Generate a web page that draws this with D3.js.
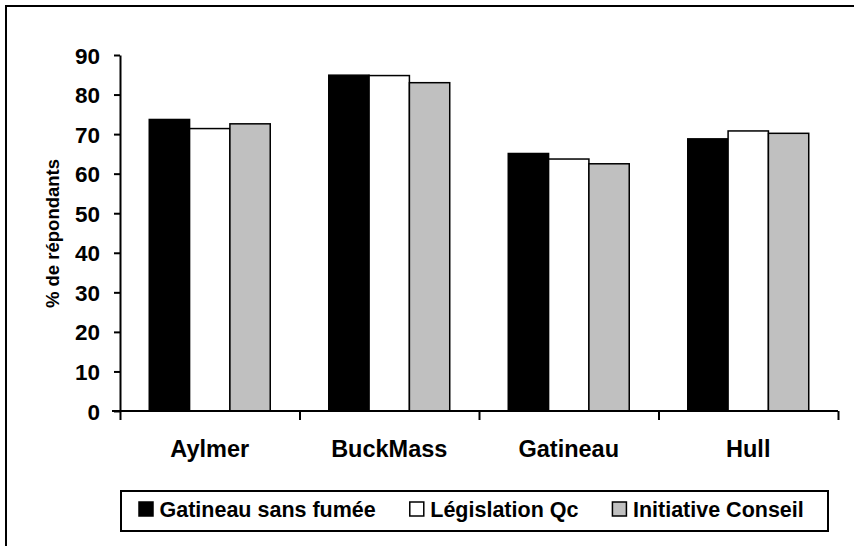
<!DOCTYPE html>
<html>
<head>
<meta charset="utf-8">
<script src="https://cdn.jsdelivr.net/npm/d3@7"></script>
<style>
  body { margin: 0; background: #fff; }
  svg { display: block; }
  text { font-family: "Liberation Sans", Arial, sans-serif; font-weight: bold; fill: #000; }
</style>
</head>
<body>
<div id="chart"></div>
<script>
const categories = ['Aylmer', 'BuckMass', 'Gatineau', 'Hull'];
const seriesNames = ['Gatineau sans fumée', 'Législation Qc', 'Initiative Conseil'];
const gatineauSansFumee = [73.7, 84.9, 65.1, 68.8];
const legislationQc = [71.4, 84.8, 63.7, 70.8];
const initiativeConseil = [72.6, 83.0, 62.5, 70.2];
const yTicks = [0, 10, 20, 30, 40, 50, 60, 70, 80, 90];

const seriesValues = [gatineauSansFumee, legislationQc, initiativeConseil];
const colors = d3.scaleOrdinal().domain(seriesNames).range(['#000000', '#ffffff', '#c0c0c0']);

const W = 854, H = 546;
const m = {t:55, r:16, b:135, l:120};

const svg = d3.select('#chart')
  .append('svg')
  .attr('width', W)
  .attr('height', H);

// outer frame (right/bottom edges fall outside the picture)
svg.append('rect')
  .attr('x', 6).attr('y', 6)
  .attr('width', W + 20).attr('height', H + 20)
  .attr('fill', 'none')
  .attr('stroke', '#000')
  .attr('stroke-width', 2);

const y = d3.scaleLinear()
  .domain([0, 90])
  .range([H - m.b, m.t]);

const x0 = d3.scaleBand()
  .domain(categories)
  .range([m.l, W - m.r])
  .paddingInner(0.326)
  .paddingOuter(0.163);

const x1 = d3.scaleBand()
  .domain(seriesNames)
  .range([0, x0.bandwidth()]);

// bars
const groups = svg.selectAll('.group')
  .data(categories)
  .enter()
  .append('g')
  .attr('class', 'group')
  .attr('transform', d => `translate(${x0(d)},0)`);

groups.selectAll('rect')
  .data((c, i) => seriesNames.map((s, j) => ({s: s, v: seriesValues[j][i]})))
  .enter()
  .append('rect')
  .attr('x', d => x1(d.s))
  .attr('y', d => y(d.v))
  .attr('width', x1.bandwidth())
  .attr('height', d => y(0) - y(d.v))
  .attr('fill', d => colors(d.s))
  .attr('stroke', '#000')
  .attr('stroke-width', 1.5);

// y axis
const yAxis = svg.append('g')
  .attr('transform', `translate(${m.l},0)`)
  .call(d3.axisLeft(y).tickValues(yTicks).tickSize(6).tickSizeOuter(0).tickPadding(14));

yAxis.selectAll('path, line').attr('stroke', '#000').attr('stroke-width', 2);
yAxis.selectAll('text')
  .style('font-size', '22.5px')
  .attr('dy', '0.36em');

// x axis: ticks on category boundaries
const xb = d3.scaleLinear().domain([0, categories.length]).range([m.l, W - m.r]);
const xAxis = svg.append('g')
  .attr('transform', `translate(0,${y(0)})`)
  .call(d3.axisBottom(xb).ticks(categories.length).tickSize(9).tickSizeOuter(0).tickFormat(''));
xAxis.selectAll('path, line').attr('stroke', '#000').attr('stroke-width', 2);
xAxis.select('.domain').attr('d', `M${m.l - 8},0H${W - m.r}`);

svg.selectAll('.cat')
  .data(categories)
  .enter()
  .append('text')
  .attr('class', 'cat')
  .attr('x', d => x0(d) + x0.bandwidth() / 2)
  .attr('y', y(0) + 46)
  .attr('text-anchor', 'middle')
  .style('font-size', '23.5px')
  .text(d => d);

// y label
svg.append('text')
  .attr('transform', `translate(59, ${y(45) + 0.5}) rotate(-90)`)
  .attr('text-anchor', 'middle')
  .style('font-size', '18.5px')
  .text('% de répondants');

// legend
const legend = svg.append('g');
legend.append('rect')
  .attr('x', 121).attr('y', 491)
  .attr('width', 707).attr('height', 40)
  .attr('fill', '#fff')
  .attr('stroke', '#000')
  .attr('stroke-width', 2);

let lx = 139;
seriesNames.forEach(function(s){
  const item = legend.append('g').attr('transform', `translate(${lx}, 502)`);
  item.append('rect')
    .attr('width', 14).attr('height', 14)
    .attr('fill', colors(s))
    .attr('stroke', '#000')
    .attr('stroke-width', 1.5);
  const t = item.append('text')
    .attr('x', 20.5)
    .attr('y', 14.5)
    .style('font-size', '21.5px')
    .text(s);
  lx += 20.5 + t.node().getComputedTextLength() + 34;
});
</script>
</body>
</html>
